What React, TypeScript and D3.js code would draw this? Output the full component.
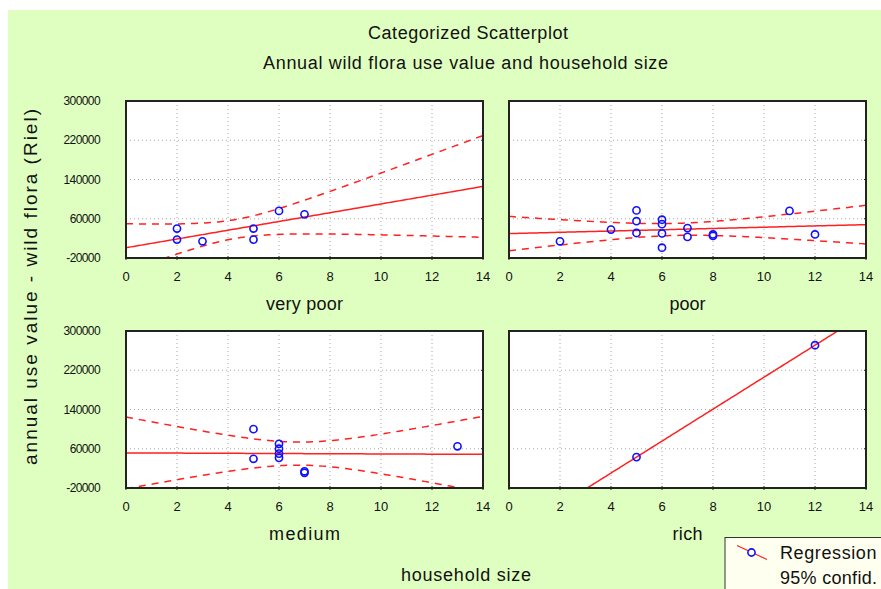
import * as d3 from "d3";

// household size (x) and annual use value (y) per wealth group
const veryPoorSize = [2, 2, 3, 5, 5, 6, 7];
const veryPoorValue = [40000, 17500, 14000, 40000, 17500, 76000, 69000];

const poorSize = [2, 4, 5, 5, 5, 6, 6, 6, 6, 7, 7, 8, 8, 11, 12];
const poorValue = [14000, 38000, 77000, 55000, 31000, 58000, 49000, 30000, 1000, 41000, 23000, 28000, 25000, 76000, 28000];

const mediumSize = [5, 5, 6, 6, 6, 6, 7, 7, 13];
const mediumValue = [100000, 39500, 70000, 60000, 50000, 41500, 14000, 11000, 65000];

const richSize = [5, 12];
const richValue = [43000, 271000];

const panelNames = ["very poor", "poor", "medium", "rich"];
const xTicks = [0, 2, 4, 6, 8, 10, 12, 14];
const yTicks = [-20000, 60000, 140000, 220000, 300000];

// t(0.975, df) for df = 1..20
const tCrit = [12.706, 4.303, 3.182, 2.776, 2.571, 2.447, 2.365, 2.306, 2.262, 2.228,
    2.201, 2.179, 2.160, 2.145, 2.131, 2.120, 2.110, 2.101, 2.093, 2.086];

const width = 881;
const height = 589;
const plotW = 357;
const plotH = 157;
const font = "'Liberation Sans', Arial, sans-serif";
const ink = "#111";

function fit(xs: number[], ys: number[]) {
    const n = xs.length;
    const mx = d3.mean(xs)!;
    const my = d3.mean(ys)!;
    let sxx = 0, sxy = 0;
    xs.forEach((x, i) => {
        sxx += (x - mx) ** 2;
        sxy += (x - mx) * (ys[i] - my);
    });
    const b = sxy / sxx;
    const a = my - b * mx;
    let sse = 0;
    xs.forEach((x, i) => { sse += (ys[i] - a - b * x) ** 2; });
    const df = n - 2;
    const s = df > 0 ? Math.sqrt(sse / df) : 0;
    const t = df > 0 ? tCrit[Math.min(df, 20) - 1] : 0;
    return { n, mx, sxx, a, b, s, t, df };
}

function Panel({ px, py, name, nameLen, xs, ys, id, showY }: any) {
    const x = d3.scaleLinear().domain([0, 14]).range([0, plotW]);
    const y = d3.scaleLinear().domain([-20000, 300000]).range([plotH, 0]);
    const r = fit(xs, ys);
    const grid = d3.range(0, 14.001, 0.1);
    const line = d3.line<number[]>().x((d) => x(d[0])).y((d) => y(d[1]));
    const reg = grid.map((g) => [g, r.a + r.b * g]);
    const band = (sign: number) =>
        grid.map((g) => {
            const se = r.s * Math.sqrt(1 / r.n + (g - r.mx) ** 2 / r.sxx);
            return [g, r.a + r.b * g + sign * r.t * se];
        });

    return (
        <g transform={`translate(${px},${py})`}>
            <defs>
                <clipPath id={id}>
                    <rect x={0} y={0} width={plotW} height={plotH} />
                </clipPath>
            </defs>
            <rect x={0} y={0} width={plotW} height={plotH} fill="white" />
            {xTicks.slice(1, -1).map((t) => (
                <line key={`gx${t}`} x1={x(t)} x2={x(t)} y1={0} y2={plotH} stroke="#a8a8a8" strokeDasharray="1,3" />
            ))}
            {yTicks.slice(1, -1).map((t) => (
                <line key={`gy${t}`} x1={0} x2={plotW} y1={y(t)} y2={y(t)} stroke="#a8a8a8" strokeDasharray="1,3" />
            ))}
            <g clipPath={`url(#${id})`}>
                <path d={line(reg as any)!} fill="none" stroke="#ff2020" strokeWidth={1.5} />
                {r.df > 0 && (
                    <>
                        <path d={line(band(1) as any)!} fill="none" stroke="#ff2020" strokeWidth={1.5} strokeDasharray="7,6" />
                        <path d={line(band(-1) as any)!} fill="none" stroke="#ff2020" strokeWidth={1.5} strokeDasharray="7,6" />
                    </>
                )}
            </g>
            {xs.map((v: number, i: number) => (
                <circle key={i} cx={x(v)} cy={y(ys[i])} r={3.6} fill="none" stroke="#1010ff" strokeWidth={1.6} />
            ))}
            <rect x={0} y={0} width={plotW} height={plotH} fill="none" stroke="#222" strokeWidth={2} />
            {xTicks.map((t) => (
                <g key={`xt${t}`} transform={`translate(${x(t)},${plotH})`}>
                    <line y1={-2} y2={2} stroke="#222" />
                    <text y={23} textAnchor="middle" fontSize={13} fill={ink}>{t}</text>
                </g>
            ))}
            {yTicks.map((t) => (
                <g key={`yt${t}`} transform={`translate(0,${y(t)})`}>
                    <line x1={plotW - 2} x2={plotW} stroke="#222" />
                    {showY && (
                        <text x={-26} dy="0.35em" textAnchor="end" fontSize={12} letterSpacing={-0.6} fill={ink}>{t}</text>
                    )}
                </g>
            ))}
            <text x={plotW / 2} y={plotH + 52} textAnchor="middle" fontSize={18}
                textLength={nameLen} lengthAdjust="spacing" fill={ink}>{name}</text>
        </g>
    );
}

export default function App() {
    const panels = [
        { px: 126, py: 101, xs: veryPoorSize, ys: veryPoorValue, showY: true, nameLen: 77 },
        { px: 509, py: 101, xs: poorSize, ys: poorValue, showY: false, nameLen: 36 },
        { px: 126, py: 331, xs: mediumSize, ys: mediumValue, showY: true, nameLen: 71 },
        { px: 509, py: 331, xs: richSize, ys: richValue, showY: false, nameLen: 30 },
    ];
    return (
        <svg width={width} height={height} style={{ position: "absolute", left: 0, top: 0 }} fontFamily={font}>
            <rect x={0} y={0} width={width} height={height} fill="white" />
            <rect x={8} y={10} width={width - 8} height={height - 10} fill="#dfffc0" />
            <text x={468} y={39} textAnchor="middle" fontSize={18} textLength={200} lengthAdjust="spacing" fill={ink}>
                Categorized Scatterplot
            </text>
            <text x={465.5} y={69} textAnchor="middle" fontSize={18} textLength={405} lengthAdjust="spacing" fill={ink}>
                Annual wild flora use value and household size
            </text>
            {panels.map((p, i) => (
                <Panel key={i} {...p} name={panelNames[i]} id={`clip${i}`} />
            ))}
            <text transform="translate(37,287) rotate(-90)" textAnchor="middle" fontSize={19}
                textLength={356} lengthAdjust="spacing" fill={ink}>
                annual use value - wild flora (Riel)
            </text>
            <text x={466} y={581} textAnchor="middle" fontSize={18} textLength={130} lengthAdjust="spacing" fill={ink}>
                household size
            </text>
            <g transform="translate(725,537.5)">
                <rect x={0} y={0} width={200} height={70} fill="#fffff0" stroke="#333" />
                <line x1={12} y1={8} x2={42} y2={22} stroke="#ff2020" strokeWidth={1.2} />
                <circle cx={26.5} cy={15} r={3.6} fill="#fffff0" stroke="#1010ff" strokeWidth={1.6} />
                <text x={55} y={21} fontSize={18} letterSpacing={0.6} fill={ink}>Regression</text>
                <text x={55} y={46} fontSize={18} textLength={97} lengthAdjust="spacing" fill={ink}>95% confid.</text>
            </g>
        </svg>
    );
}
